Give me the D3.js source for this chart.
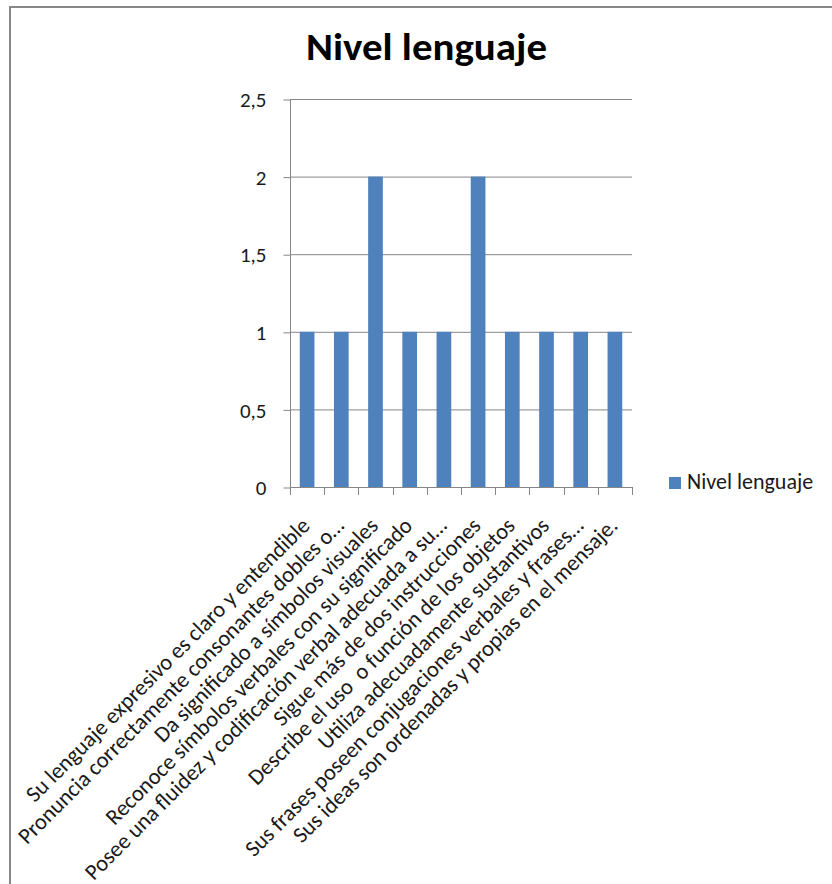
<!DOCTYPE html>
<html>
<head>
<meta charset="utf-8">
<script src="https://cdn.jsdelivr.net/npm/d3@7"></script>
<style>
  body { margin: 0; background: #fff; }
  svg { display: block; font-family: Carlito, Calibri, Lato, sans-serif; }
</style>
</head>
<body>
<div id="app"></div>
<script>
const TITLE = "Nivel lenguaje";
const SERIES_NAME = "Nivel lenguaje";

const CATEGORIES = [
  "Su lenguaje expresivo es claro y entendible",
  "Pronuncia correctamente consonantes dobles o…",
  "Da significado a símbolos visuales",
  "Reconoce símbolos verbales con su significado",
  "Posee una fluidez y codificación verbal adecuada a su…",
  "Sigue más de dos instrucciones",
  "Describe el uso  o función de los objetos",
  "Utiliza adecuadamente sustantivos",
  "Sus frases poseen conjugaciones verbales y frases…",
  "Sus ideas son ordenadas y propias en el mensaje."
];
const VALUES = [1, 1, 2, 1, 1, 2, 1, 1, 1, 1];
const Y_TICKS = [0, 0.5, 1, 1.5, 2, 2.5];

const WIDTH = 832;
const HEIGHT = 884;
const PLOT = { LEFT: 290, RIGHT: 632, TOP: 99, BOTTOM: 487 };
const BAR_COLOR = "#4f81bd";
const GRID_COLOR = "#868686";
const TEXT_COLOR = "#1a1a1a";

const svg = d3
  .select("#app")
  .append("svg")
  .attr("width", WIDTH)
  .attr("height", HEIGHT);

// outer chart border (right/bottom edges fall outside the picture)
svg
  .append("rect")
  .attr("x", 10)
  .attr("y", 7)
  .attr("width", WIDTH + 20)
  .attr("height", HEIGHT + 20)
  .attr("fill", "#fff")
  .attr("stroke", "#888")
  .attr("stroke-width", 2);

// scales
const xCat = d3
  .scaleBand()
  .domain(CATEGORIES)
  .range([PLOT.LEFT, PLOT.RIGHT]);
const xBar = d3
  .scaleBand()
  .domain(CATEGORIES)
  .range([PLOT.LEFT, PLOT.RIGHT])
  .paddingInner(0.57)
  .paddingOuter(0.285);
const y = d3.scaleLinear().domain([0, 2.5]).range([PLOT.BOTTOM, PLOT.TOP]);

// gridlines
svg
  .append("g")
  .selectAll("line")
  .data(Y_TICKS.filter((d) => d > 0))
  .join("line")
  .attr("x1", PLOT.LEFT)
  .attr("x2", PLOT.RIGHT)
  .attr("y1", (d) => y(d) + 0.5)
  .attr("y2", (d) => y(d) + 0.5)
  .attr("stroke", GRID_COLOR)
  .attr("stroke-width", 1);

// y axis
const yAxis = svg
  .append("g")
  .attr("transform", `translate(${PLOT.LEFT + 0.5},0.5)`)
  .call(
    d3
      .axisLeft(y)
      .tickValues(Y_TICKS)
      .tickSize(7)
      .tickPadding(17)
      .tickFormat((d) => String(d).replace(".", ","))
  )
  .attr("font-family", null)
  .attr("font-size", null);
yAxis.select(".domain").remove();
yAxis.selectAll(".tick line").attr("stroke", GRID_COLOR);
yAxis
  .selectAll(".tick text")
  .attr("font-size", 21)
  .attr("dy", "0.34em")
  .attr("fill", TEXT_COLOR);

svg
  .append("line")
  .attr("x1", PLOT.LEFT + 0.5)
  .attr("x2", PLOT.LEFT + 0.5)
  .attr("y1", PLOT.TOP)
  .attr("y2", PLOT.BOTTOM + 8)
  .attr("stroke", GRID_COLOR);

// bars
svg
  .append("g")
  .selectAll("rect")
  .data(VALUES)
  .join("rect")
  .attr("x", (d, i) => xBar(CATEGORIES[i]))
  .attr("y", (d) => y(d))
  .attr("width", xBar.bandwidth())
  .attr("height", (d) => y(0) - y(d))
  .attr("fill", BAR_COLOR);

// x axis line and category boundary ticks
svg
  .append("line")
  .attr("x1", PLOT.LEFT)
  .attr("x2", PLOT.RIGHT)
  .attr("y1", PLOT.BOTTOM + 0.5)
  .attr("y2", PLOT.BOTTOM + 0.5)
  .attr("stroke", GRID_COLOR);

svg
  .append("g")
  .selectAll("line")
  .data(CATEGORIES.slice(1).map((c) => xCat(c)).concat([PLOT.RIGHT]))
  .join("line")
  .attr("x1", (d) => Math.round(d) + 0.5)
  .attr("x2", (d) => Math.round(d) + 0.5)
  .attr("y1", PLOT.BOTTOM)
  .attr("y2", PLOT.BOTTOM + 8)
  .attr("stroke", GRID_COLOR);

// rotated category labels
svg
  .append("g")
  .selectAll("text")
  .data(CATEGORIES)
  .join("text")
  .attr(
    "transform",
    (d) => `translate(${xCat(d) + xCat.bandwidth() / 2 + 4},527) rotate(-45)`
  )
  .attr("text-anchor", "end")
  .attr("font-size", 22.5)
  .attr("fill", TEXT_COLOR)
  .style("white-space", "pre")
  .text((d) => d);

// title
svg
  .append("text")
  .attr("x", 426.5)
  .attr("y", 60)
  .attr("text-anchor", "middle")
  .attr("font-size", 38)
  .attr("font-weight", "bold")
  .attr("textLength", 241)
  .attr("lengthAdjust", "spacingAndGlyphs")
  .attr("fill", "#000")
  .text(TITLE);

// legend
const legend = svg.append("g").attr("transform", "translate(669,477)");
legend
  .append("rect")
  .attr("width", 12)
  .attr("height", 12)
  .attr("fill", BAR_COLOR);
legend
  .append("text")
  .attr("x", 18)
  .attr("y", 12)
  .attr("font-size", 22)
  .attr("fill", TEXT_COLOR)
  .text(SERIES_NAME);
</script>
</body>
</html>
